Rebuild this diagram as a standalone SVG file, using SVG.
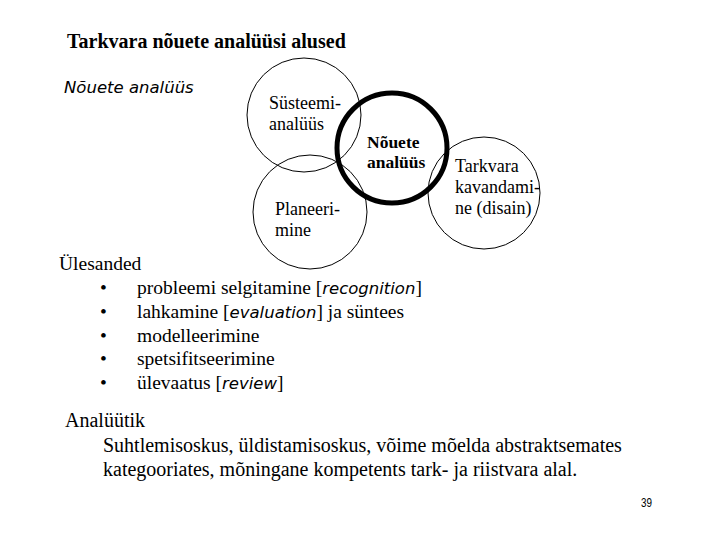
<svg xmlns="http://www.w3.org/2000/svg" width="720" height="540" viewBox="0 0 720 540">
<style>
.s{font-family:"Liberation Serif","Times New Roman",serif;fill:#000}
.t{font-size:20px;font-weight:bold}
.lbl{font-size:18px}
.b{font-weight:bold;font-size:17.5px}
.it{font-family:"DejaVu Sans","Liberation Sans",sans-serif;font-style:italic;font-size:16px;fill:#000}
.li{font-size:19.5px}
.p{font-size:20px}
.c{fill:none;stroke:#000;stroke-width:1}
</style>
<rect width="720" height="540" fill="#fff"/>
<text class="s t" x="67" y="48">Tarkvara nõuete analüüsi alused</text>
<text class="it" x="64" y="93" style="font-weight:300;font-size:16.5px">Nõuete analüüs</text>
<g id="node-systeemi">
<circle class="c" cx="304" cy="115" r="57"/>
<text class="s lbl" x="269" y="109">Süsteemi-</text>
<text class="s lbl" x="269" y="130">analüüs</text>
</g>
<g id="node-planeerimine">
<circle class="c" cx="310" cy="212" r="57"/>
<text class="s lbl" x="275" y="215">Planeeri-</text>
<text class="s lbl" x="275" y="236">mine</text>
</g>
<g id="node-tarkvara">
<circle class="c" cx="484" cy="193" r="56"/>
<text class="s lbl" x="455" y="172">Tarkvara</text>
<text class="s lbl" x="455" y="193">kavandami-</text>
<text class="s lbl" x="455" y="214">ne (disain)</text>
</g>
<g id="node-nouete">
<circle cx="392" cy="148" r="55" fill="none" stroke="#000" stroke-width="5"/>
<text class="s b" x="367" y="148">Nõuete</text>
<text class="s b" x="367" y="168">analüüs</text>
</g>
<g id="connectors"></g>
<text class="s li" x="59" y="270">Ülesanded</text>
<g class="s li">
<text x="100" y="294">•</text><text x="137" y="294">probleemi selgitamine [<tspan class="it" style="font-size:16.5px">recognition</tspan>]</text>
<text x="100" y="318">•</text><text x="137" y="318">lahkamine [<tspan class="it" style="font-size:16.5px">evaluation</tspan>] ja süntees</text>
<text x="100" y="342">•</text><text x="137" y="342">modelleerimine</text>
<text x="100" y="365">•</text><text x="137" y="365">spetsifitseerimine</text>
<text x="100" y="389">•</text><text x="137" y="389">ülevaatus [<tspan class="it" style="font-size:16.5px">review</tspan>]</text>
</g>
<text class="s p" x="65" y="427">Analüütik</text>
<text class="s p" x="103" y="452">Suhtlemisoskus, üldistamisoskus, võime mõelda abstraktsemates</text>
<text class="s p" x="103" y="476">kategooriates, mõningane kompetents tark- ja riistvara alal.</text>
<text x="641" y="507" textLength="11" lengthAdjust="spacingAndGlyphs" style="font-family:'Liberation Sans',sans-serif;font-size:13px">39</text>
</svg>
